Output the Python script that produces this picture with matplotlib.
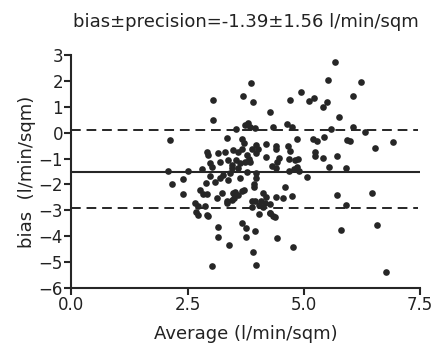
import matplotlib
matplotlib.use('Agg')
import matplotlib.pyplot as plt

# Bland-Altman points: (average, bias)
average = [
    2.12, 2.07, 2.50, 2.16, 2.41, 2.41, 2.66, 2.73, 2.68, 2.72,
    2.91, 2.94, 2.87, 2.77, 2.84, 2.92, 2.89, 2.98, 3.09,
    3.16, 3.16, 3.40, 3.02, 3.66, 3.75, 3.76, 3.95, 3.91, 3.98,
    3.14, 3.23, 3.35, 3.48, 3.50, 3.66, 3.71, 3.89, 3.34, 3.45,
    3.52, 3.59, 3.88, 3.95,
    4.03, 4.07, 4.12, 4.16, 4.27, 4.13, 4.18, 4.27, 4.04, 4.27, 4.34, 4.38,
    3.97, 3.98, 3.93, 3.92,
    4.59, 4.41, 4.56, 4.74, 5.72, 6.46, 5.91,
    4.43, 4.76, 5.81, 6.58, 6.77, 5.06,
    3.02, 2.81, 3.20, 3.37, 3.45, 3.55, 3.63, 3.73, 3.84, 2.98,
    3.45, 3.41, 3.59, 3.77, 3.27, 3.20, 3.37, 3.63,
    2.91, 2.93, 3.16, 3.30, 3.48, 3.59, 3.66, 3.77, 3.82, 3.98, 3.88,
    3.34, 3.66, 3.72, 3.98, 4.02, 4.18, 4.18,
    3.86, 3.70, 3.91, 3.05, 3.05, 4.28, 3.55, 3.73, 3.80, 3.84, 3.95,
    5.68, 5.53, 6.22, 4.94, 4.70, 5.12, 5.22, 5.49, 5.42, 6.05, 5.75,
    4.33, 4.63, 4.74, 5.58, 6.05, 6.32,
    4.86, 5.19, 5.29, 5.44, 5.93, 5.99, 6.91, 6.54, 5.71, 5.23, 5.24,
    5.42, 4.87, 4.69, 4.70, 4.65, 4.47, 4.40, 4.41, 4.81,
    4.31, 4.42, 4.40, 4.68, 4.78, 4.85, 4.90, 5.55, 5.91,
]
bias = [
    -0.29, -1.47, -1.47, -1.97, -1.80, -2.39, -2.73, -2.85, -3.05, -3.17,
    -3.18, -3.24, -2.83, -2.21, -2.38, -2.38, -1.93, -1.67, -1.92,
    -3.63, -4.05, -4.34, -5.17, -3.50, -3.69, -4.05, -3.80, -4.63, -5.13,
    -2.53, -2.34, -2.66, -2.34, -2.51, -2.24, -2.21, -2.63, -2.73, -2.60,
    -2.28, -2.40, -2.86, -2.66,
    -2.79, -2.66, -2.86, -2.73, -2.74, -2.34, -2.49, -3.09, -3.15, -3.11, -3.22, -3.27,
    -1.57, -1.76, -1.98, -2.10,
    -2.09, -2.47, -2.51, -2.43, -2.41, -2.34, -2.79,
    -4.08, -4.40, -3.76, -3.56, -5.40, -1.73,
    -1.31, -1.41, -1.12, -1.07, -1.25, -1.05, -1.18, -1.12, -1.12, -1.18,
    -1.38, -1.57, -1.38, -1.51, -1.63, -1.76, -1.83, -1.76,
    -0.73, -0.86, -0.80, -0.73, -0.67, -0.73, -0.64, -0.85, -1.00, -0.80, -0.62,
    -0.22, -0.26, -0.41, -0.47, -0.64, -0.45, -0.95,
    1.91, 1.43, 1.17, 1.26, 0.48, 0.79, 0.13, 0.30, 0.39, 0.23, 0.17,
    2.72, 2.03, 1.94, 1.58, 1.26, 1.22, 1.35, 1.20, 1.00, 1.43, 0.62,
    0.23, 0.32, 0.23, 0.14, 0.21, 0.04,
    -0.24, -0.26, -0.31, -0.18, -0.28, -0.31, -0.37, -0.60, -0.90, -0.73, -0.90,
    -0.99, -1.02, -1.03, -0.71, -0.51, -0.99, -0.50, -0.64, -1.05,
    -1.30, -1.15, -1.38, -1.48, -1.40, -1.31, -1.50, -1.34, -1.37,
]

mean_bias = -1.52
upper_limit = 0.10
lower_limit = -2.93

x_ticks = [0.0, 2.5, 5.0, 7.5]
y_ticks = [3, 2, 1, 0, -1, -2, -3, -4, -5, -6]

plt.rcParams['font.family'] = ['DejaVu Sans']
plt.rcParams['axes.unicode_minus'] = True

fig = plt.figure(figsize=(4.38, 3.55), dpi=100)
ax = fig.add_axes([0.163, 0.189, 0.796, 0.656])

dark = '#262626'
ax.plot(average, bias, 'o', color=dark, markersize=4.8, markeredgewidth=0)
ax.plot([0, 7.5], [mean_bias, mean_bias], '-', color=dark, lw=1.5)
ax.plot([0, 7.45], [upper_limit, upper_limit], '--', color=dark, lw=1.4, dashes=(5, 3))
ax.plot([0, 7.45], [lower_limit, lower_limit], '--', color=dark, lw=1.4, dashes=(5, 3))

ax.set_xlim(0, 7.5)
ax.set_ylim(-6, 3)
ax.set_xticks(x_ticks)
ax.set_xticklabels(['%.1f' % t for t in x_ticks])
ax.set_yticks(y_ticks)

for side in ['top', 'right']:
    ax.spines[side].set_visible(False)
for side in ['left', 'bottom']:
    ax.spines[side].set_linewidth(1.5)
    ax.spines[side].set_color(dark)
ax.tick_params(axis='both', direction='out', length=5, width=1.5, color=dark,
               labelsize=12, labelcolor='#222222', pad=1)

ax.set_title('bias\u00b1precision=-1.39\u00b11.56 l/min/sqm', fontsize=13,
             color='#222222', pad=20)
ax.set_xlabel('Average (l/min/sqm)', fontsize=13, color='#222222', labelpad=8)
ax.set_ylabel('bias  (l/min/sqm)', fontsize=13, color='#222222', labelpad=2)

fig.savefig('out.png', dpi=100)
